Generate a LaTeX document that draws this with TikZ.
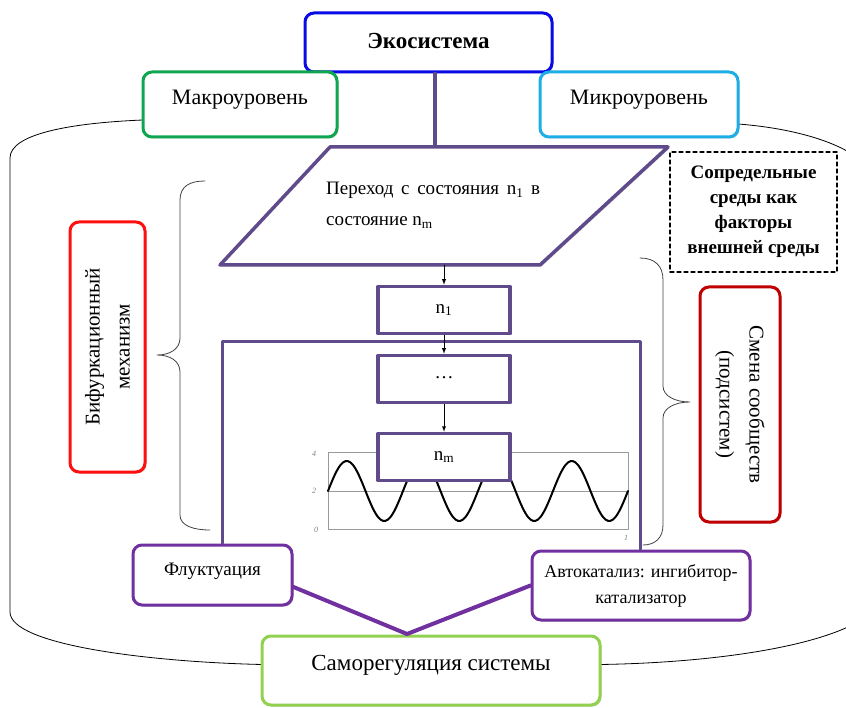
\documentclass[tikz,border=0pt]{standalone}
\usepackage{fontspec}
\setmainfont{Liberation Serif}
\usepackage{tikz}
\usetikzlibrary{shadows}
\tikzset{>=latex}
\usepackage{xcolor}
\definecolor{ecoblue}{HTML}{0A0AE6}
\definecolor{macrogreen}{HTML}{10A550}
\definecolor{microblue}{HTML}{1EAEE6}
\definecolor{flowpurple}{HTML}{5F4B8B}
\definecolor{boxpurple}{HTML}{7030A0}
\definecolor{bifred}{HTML}{FF1010}
\definecolor{darkred}{HTML}{C00000}
\definecolor{selfgreen}{HTML}{92D050}

\begin{document}
\begin{tikzpicture}[x=1pt, y=-1pt, line cap=round, line join=round,
                    box/.style={draw, fill=white, rounded corners=9pt, line width=3pt,
                                inner sep=0pt, align=center,
                                drop shadow={shadow xshift=1.5pt, shadow yshift=-1.5pt, opacity=0.35}},
                    statebox/.style={draw=flowpurple, fill=white, line width=3.5pt, inner sep=0pt,
                                     minimum width=132, minimum height=47,
                                     font=\fontsize{19}{23}\selectfont,
                                     drop shadow={shadow xshift=1.5pt, shadow yshift=-1.5pt, opacity=0.35}},
                    flowline/.style={flowpurple, line width=3.5pt},
                    brace/.style={black!75, line width=0.8pt},
                    axlbl/.style={gray, inner sep=0pt, font=\fontsize{8}{9}\itshape}]
  \useasboundingbox (0,0) rectangle (846,708);
  \def\txt#1{\fontsize{#1}{#1}\selectfont}

  % OUTER CONTOUR (cylinder)
  \draw[black, line width=0.8pt] (143,120) .. controls (70,123) and (10,134) .. (10,158)
        -- (10,612) .. controls (10,645) and (150,662) .. (262,664.5);
  \draw[black, line width=0.8pt] (600,664.5) .. controls (700,663) and (800,650) .. (850,626);
  \draw[black, line width=0.8pt] (738,124) .. controls (790,128) and (830,140) .. (852,154);

  % BRACES
  \draw[brace] (205,181) .. controls (190,181) and (180,186) .. (180,200) -- (180,338)
        .. controls (180,349) and (170,355) .. (157,355) .. controls (170,355) and (180,361) .. (180,372)
        -- (180,515) .. controls (180,526) and (194,530) .. (210,530);
  \draw[brace] (640,258) .. controls (655,258) and (663,266) .. (663,280) -- (663,386)
        .. controls (663,396) and (675,402) .. (690,402) .. controls (675,402) and (663,408) .. (663,418)
        -- (663,525) .. controls (663,538) and (655,545) .. (643,545);

  % TOP LEVEL
  \node[box, draw=ecoblue, minimum width=247, text height=36, text depth=23,
        font=\txt{23}\bfseries] (eco) at (428.5,42.5) {Экосистема};
  \node[box, draw=macrogreen, minimum width=194, text height=33, text depth=32,
        font=\txt{22}] (macro) at (240,104.5) {Макроуровень};
  \node[box, draw=microblue, minimum width=198, text height=33, text depth=32,
        font=\txt{22}] (micro) at (639,104.5) {Микроуровень};

  % TRANSITION (parallelogram)
  \coordinate (transT) at (435,147);
  \coordinate (transB) at (444,265);
  \draw[flowline] (transT |- eco.south) -- (transT);
  \filldraw[flowline, fill=white, drop shadow={shadow xshift=1.5pt, shadow yshift=-1.5pt, opacity=0.35}]
        (220,265) -- (330,147) -- (668,147) -- (540,265) -- cycle;
  \node[anchor=north west, inner sep=0pt, align=left, font=\fontsize{19}{31}\selectfont] (trans) at (326,182)
        {\makebox[214pt][s]{Переход с состояния n\textsubscript{1} в}\\состояние n\textsubscript{m}};

  % FRAME
  \coordinate (frameL) at (222,342);
  \coordinate (frameR) at (640,342);

  % CHART
  \draw[gray!80, line width=0.8pt] (328,452) rectangle (628,529);
  \draw[gray!80, line width=0.8pt] (328,491) -- (628,491);
  \draw[black, line width=2pt, variable=\t, domain=0:300, samples=121, smooth]
        plot ({328+\t}, {491-30*sin(\t*4.8)});
  \node[axlbl] (ax4) at (314,454) {4};
  \node[axlbl] (ax2) at (314,491) {2};
  \node[axlbl] (ax0) at (316,530) {0};
  \node[axlbl] (ax1) at (626,538) {1};

  % STATES
  \node[statebox] (n1) at (444,310) {n\textsubscript{1}};
  \node[statebox] (dots) at (444,379) {\raisebox{3pt}{\dots}};
  \node[statebox] (nm) at (444,457) {n\textsubscript{m}};

  % SIDE BOXES
  \node[box, draw=bifred, rotate=90, minimum width=250, minimum height=75,
        font=\fontsize{21}{30}\selectfont] (bif) at (107.5,347) {Бифуркационный\\механизм};
  \node[box, draw=darkred, rotate=-90, minimum width=235, minimum height=80,
        font=\fontsize{21}{30}\selectfont] (change) at (740,404.5) {Смена сообществ\\(подсистем)};
  \node[draw, dashed, line width=1.2pt, dash pattern=on 4pt off 3pt, inner sep=0pt,
        minimum width=167, minimum height=120, align=center,
        font=\fontsize{19}{25}\selectfont\bfseries] (env) at (753.5,212)
        {Сопредельные\\среды как\\факторы\\внешней среды};

  % BOTTOM
  \node[box, draw=boxpurple, minimum width=159, text height=30, text depth=30,
        font=\txt{19}] (fluct) at (212.5,575) {Флуктуация};
  \node[box, draw=boxpurple, minimum width=218, minimum height=69,
        font=\fontsize{18}{26}\selectfont] (auto) at (641,585.5) {Автокатализ: ингибитор-\\катализатор};
  \node[box, draw=selfgreen, minimum width=338, text height=34, text depth=35,
        font=\txt{23}] (self) at (431,670.5) {Саморегуляция системы};
  \coordinate (join) at (407,634);

  % CONNECTORS
  \draw[flowline, line width=3pt] (fluct.north -| frameL) -- (frameL) -- (frameR) -- (frameR |- auto.north);
  \draw[->, black, line width=0.9pt] (transB) -- (n1);
  \draw[->, black, line width=0.9pt] (n1) -- (dots);
  \draw[->, black, line width=0.9pt] (dots) -- (nm);
  \draw[boxpurple, line width=4pt] ([yshift=-12pt]fluct.east) -- (join) -- (auto.west);

\end{tikzpicture}
\end{document}
